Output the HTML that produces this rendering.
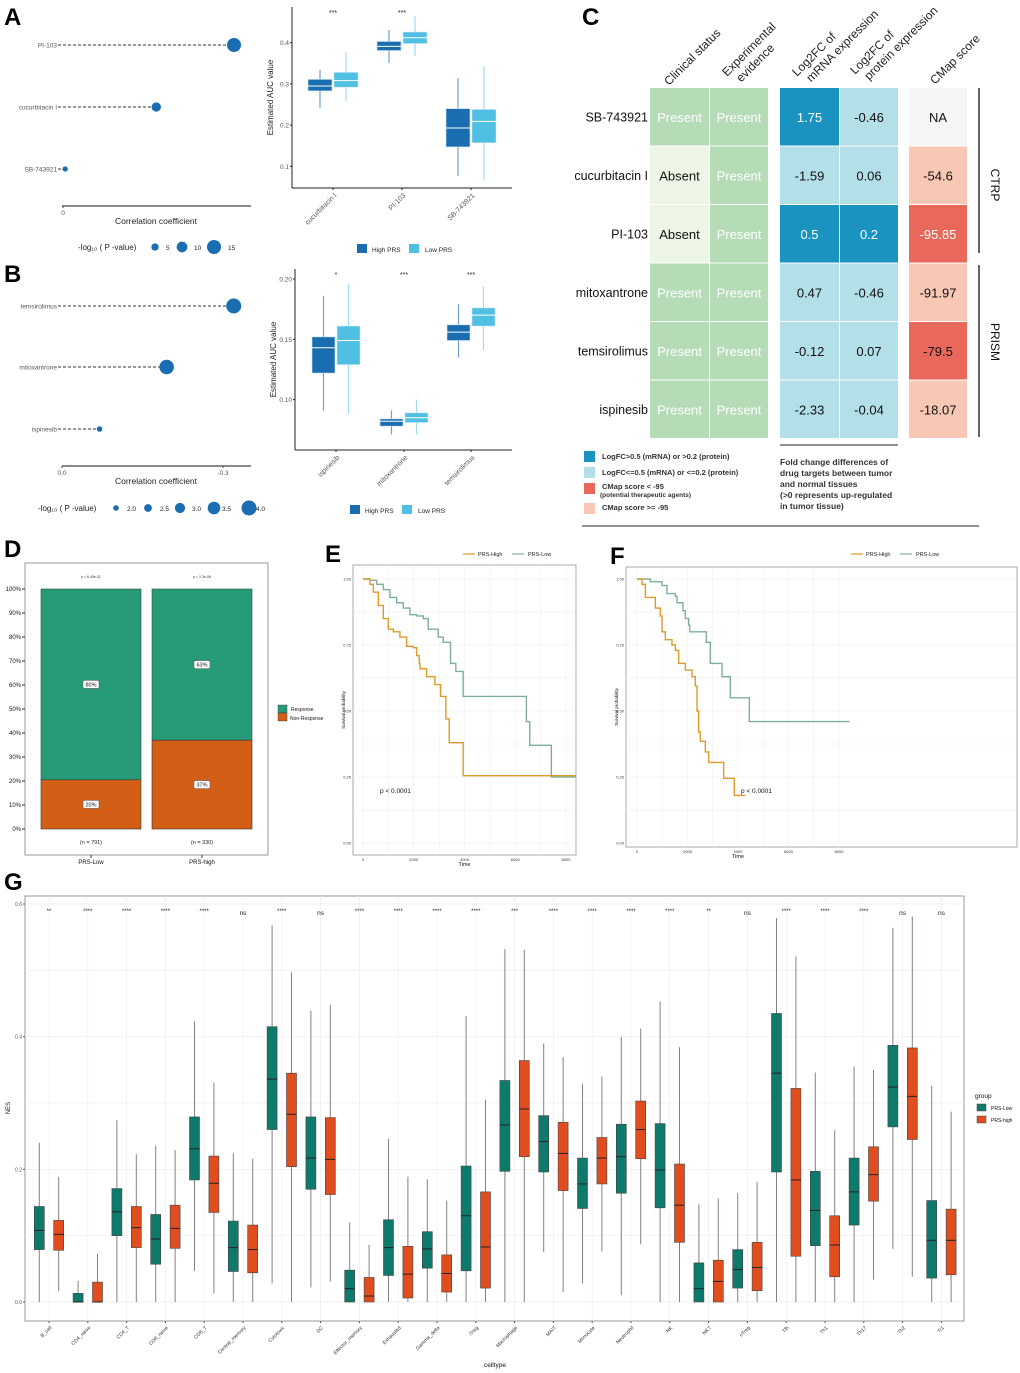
<!DOCTYPE html>
<html><head><meta charset="utf-8">
<style>
html,body{margin:0;padding:0;background:#fff;}
svg{display:block;font-family:"Liberation Sans",sans-serif;}
</style></head>
<body>
<svg id="fig" xmlns="http://www.w3.org/2000/svg" width="1020" height="1373" viewBox="0 0 1020 1373">
<rect x="0" y="0" width="1020" height="1373" fill="#fff"/>
<g font-weight="bold" font-size="24" fill="#000">
<text x="4" y="25">A</text>
<text x="4" y="282">B</text>
<text x="582" y="25">C</text>
<text x="4" y="557">D</text>
<text x="325" y="562">E</text>
<text x="610" y="564">F</text>
<text x="4" y="890">G</text>
</g>
</svg>
<script>
// ---------- DATA ----------
const aDrugs=["PI-103","cucurbitacin I","SB-743921"];
const aCorr=[-0.55,-0.3,-0.007];
const aLogP=[15,8,2];
const bDrugs=["temsirolimus","mitoxantrone","ispinesib"];
const bCorr=[-0.32,-0.195,-0.07];
const bLogP=[4.0,3.9,2.0];
const aCats=["cucurbitacin I","PI-103","SB-743921"];
const aHigh=[[0.242,0.283,0.295,0.311,0.334],[0.351,0.381,0.391,0.403,0.431],[0.077,0.147,0.193,0.240,0.314]];
const aLow=[[0.259,0.292,0.308,0.328,0.377],[0.368,0.398,0.412,0.426,0.465],[0.067,0.157,0.209,0.238,0.343]];
const aSig=["***","***",""];
const aTicks=[0.1,0.2,0.3,0.4];
const bCats=["ispinesib","mitoxantrone","temsirolimus"];
const bHigh=[[0.091,0.122,0.143,0.152,0.186],[0.071,0.078,0.082,0.084,0.091],[0.135,0.149,0.156,0.162,0.179]];
const bLow=[[0.088,0.129,0.149,0.161,0.196],[0.071,0.081,0.085,0.089,0.100],[0.141,0.161,0.170,0.176,0.194]];
const bSig=["*","***","***"];
const bTicks=[0.10,0.15,0.20];
const cDrugs=["SB-743921","cucurbitacin I","PI-103","mitoxantrone","temsirolimus","ispinesib"];
const cClinical=["Present","Absent","Absent","Present","Present","Present"];
const cExperimental=["Present","Present","Present","Present","Present","Present"];
const cMrna=[1.75,-1.59,0.5,0.47,-0.12,-2.33];
const cProtein=[-0.46,0.06,0.2,-0.46,0.07,-0.04];
const cCmap=["NA","-54.6","-95.85","-91.97","-79.5","-18.07"];
const cCmapClass=["na","light","dark","light","dark","light"];
const cMrnaClass=["dark","light","dark","light","light","light"];
const cProteinClass=["light","light","dark","light","light","light"];
const dGroups=["PRS-Low","PRS-high"];
const dNonResp=[20.5,37];
const dRespLabel=["80%","63%"];
const dNonLabel=["20%","37%"];
const dN=["(n = 791)","(n = 330)"];
const dP=["p = 6.45e-02","p = 2.2e-06"];
const dTicks=[0,10,20,30,40,50,60,70,80,90,100];
const eHighT=[0,275,407,603,800,997,1193,1456,1718,1980,2111,2216,2243,2505,2833,3056,3266,3397,3948,8400];
const eHighS=[1,0.98,0.95,0.90,0.85,0.81,0.80,0.78,0.745,0.74,0.71,0.68,0.66,0.63,0.60,0.555,0.47,0.38,0.255,0.255];
const eLowT=[0,275,538,800,1062,1325,1587,1849,2111,2374,2570,2964,3161,3449,3659,3948,6439,6570,7423,8400];
const eLowS=[1,0.995,0.98,0.96,0.93,0.91,0.89,0.865,0.86,0.85,0.81,0.78,0.76,0.68,0.65,0.555,0.46,0.37,0.25,0.25];
const fHighT=[0,198,330,726,924,990,1122,1386,1518,1650,1914,2178,2310,2376,2442,2508,2706,2838,3432,3855,4290];
const fHighS=[1,0.98,0.93,0.89,0.86,0.80,0.77,0.75,0.73,0.68,0.655,0.63,0.595,0.50,0.42,0.385,0.345,0.305,0.245,0.18,0.18];
const fLowT=[0,528,990,1188,1518,1584,1822,1914,2046,2086,2746,2904,3366,3696,4449,8422];
const fLowS=[1,0.99,0.975,0.945,0.935,0.91,0.88,0.85,0.825,0.80,0.76,0.68,0.63,0.55,0.46,0.46];
const survYTicks=["0.00","0.25","0.50","0.75","1.00"];
const survXTicks=[0,2000,4000,6000,8000];
const gCats=["B_cell","CD4_naive","CD4_T","CD8_naive","CD8_T","Central_memory","Cytotoxic","DC","Effector_memory","Exhausted","Gamma_delta","iTreg","Macrophage","MAIT","Monocyte","Neutrophil","NK","NKT","nTreg","Tfh","Th1","Th17","Th2","Tr1"];
const gLow=[[0,0.079,0.108,0.144,0.24],[0,0,0,0.013,0.032],[0,0.10,0.136,0.171,0.274],[0,0.057,0.095,0.132,0.236],[0.047,0.184,0.231,0.279,0.423],[0,0.046,0.082,0.122,0.224],[0.028,0.26,0.336,0.415,0.568],[0.022,0.17,0.217,0.279,0.439],[0,0,0.02,0.048,0.12],[0,0.04,0.082,0.124,0.246],[0,0.051,0.08,0.106,0.185],[0,0.047,0.13,0.205,0.431],[0,0.197,0.267,0.334,0.532],[0.075,0.196,0.242,0.281,0.39],[0.028,0.141,0.178,0.217,0.329],[0.01,0.164,0.219,0.268,0.40],[0,0.142,0.199,0.269,0.453],[0,0,0.02,0.059,0.147],[0,0.021,0.049,0.079,0.164],[0,0.196,0.345,0.435,0.579],[0,0.085,0.138,0.197,0.346],[0,0.116,0.166,0.217,0.355],[0.08,0.264,0.324,0.387,0.564],[0,0.036,0.093,0.153,0.326]];
const gHigh=[[0.016,0.078,0.102,0.123,0.189],[0,0,0,0.03,0.073],[0,0.082,0.112,0.144,0.223],[0,0.081,0.111,0.146,0.229],[0.013,0.135,0.179,0.22,0.331],[0,0.044,0.079,0.116,0.216],[0,0.204,0.283,0.345,0.497],[0.031,0.162,0.215,0.278,0.448],[0,0,0.009,0.037,0.086],[0,0.006,0.042,0.084,0.189],[0,0.015,0.043,0.071,0.153],[0,0.021,0.083,0.166,0.305],[0,0.219,0.291,0.364,0.531],[0.015,0.168,0.224,0.271,0.369],[0.076,0.178,0.217,0.248,0.34],[0.087,0.216,0.26,0.303,0.412],[0,0.09,0.146,0.208,0.384],[0,0,0.031,0.063,0.156],[0,0.017,0.052,0.09,0.181],[0,0.069,0.184,0.322,0.521],[0,0.038,0.086,0.13,0.259],[0.034,0.152,0.192,0.234,0.35],[0.038,0.245,0.31,0.383,0.581],[0,0.041,0.093,0.14,0.287]];
const gSig=["**","****","****","****","****","ns","****","ns","****","****","****","****","***","****","****","****","****","**","ns","****","****","****","ns","ns"];
const gTicks=[0.0,0.2,0.4,0.6];

// ---------- HELPERS ----------
const NS='http://www.w3.org/2000/svg';
const svg=document.getElementById('fig');
function mk(tag,attrs,parent){const e=document.createElementNS(NS,tag);for(const k in attrs)e.setAttribute(k,attrs[k]);(parent||svg).appendChild(e);return e;}
function tx(x,y,s,size,attrs,parent){const a=Object.assign({x:x,y:y,'font-size':size,fill:'#222'},attrs||{});const e=mk('text',a,parent);e.textContent=s;return e;}
function grp(){return mk('g',{});}

// ---------- PANEL A/B LOLLIPOP ----------
function lollipop(drugs,corr,logp,ys,axisY,xScale,rScale,ticks,legendY,legVals,legX,legLabX,legTitleX,legFmt){
  const g=grp();
  
  
  const ax=mk('line',{x1:62,y1:axisY,x2:251,y2:axisY,stroke:'#444','stroke-width':1.2},g);
  
  
  ticks.forEach(t=>{
    mk('line',{x1:xScale(t.v),y1:axisY,x2:xScale(t.v),y2:axisY+2,stroke:'#444'},g);
    const l=tx(xScale(t.v),axisY+9,t.s,6.5,{'text-anchor':'middle',fill:'#555'},g);
    
    
  });
  const xt=tx(156,axisY+18,'Correlation coefficient',8.5,{'text-anchor':'middle',fill:'#222'},g);
  
  
  drugs.forEach((d,i)=>{
    const y=ys[i];
    const lb=tx(57,y+2.5,d,6.5,{'text-anchor':'end',fill:'#555'},g);
    
    
    mk('line',{x1:58,y1:y,x2:xScale(corr[i]),y2:y,stroke:'#333','stroke-width':1,'stroke-dasharray':'3,2'},g);
    const c=mk('circle',{cx:xScale(corr[i]),cy:y,r:rScale(logp[i]),fill:'#1a6db0'},g);
    
    
  });
  const lt=tx(legTitleX,legendY+3,'-log\u2081\u2080 ( P -value)',8,{'text-anchor':'start',fill:'#222'},g);
  
  
  legVals.forEach((v,i)=>{
    const c=mk('circle',{cx:legX[i],cy:legendY,r:rScale(v),fill:'#1a6db0'},g);
    
    
    tx(legLabX[i],legendY+3,legFmt(v),6.5,{fill:'#222'},g);
  });
}
lollipop(aDrugs,aCorr,aLogP,[45,107,169],206,v=>63+v/-0.55*171,p=>2+p/15*5,[{v:0,s:'0'}],247,[5,10,15],[155,182,214],[166,194,228],78,v=>String(v));
lollipop(bDrugs,bCorr,bLogP,[306,367,429],466,v=>62+v/-0.3*161,p=>p<=2.05?2.8:(1.5+(p-1.5)*2.4),[{v:0,s:'0.0'},{v:-0.3,s:'-0.3'}],508,[2.0,2.5,3.0,3.5,4.0],[116,148,180,214,249],[127,160,192,222,256],38,v=>v.toFixed(1));

// ---------- PANEL A/B BOXPLOTS ----------
function drugBox(cats,hi,lo,sig,ticks,yS,left,top,bottom,xs,off,w,legY,legX,tickFmt){
  const g=grp();
  
  
  mk('line',{x1:left,y1:top,x2:left,y2:bottom,stroke:'#222','stroke-width':1},g);
  mk('line',{x1:left,y1:bottom,x2:512,y2:bottom,stroke:'#222','stroke-width':1},g);
  ticks.forEach(t=>{
    mk('line',{x1:left-2,y1:yS(t),x2:left,y2:yS(t),stroke:'#222'},g);
    const l=tx(left-3,yS(t)+2.5,tickFmt(t),6.5,{'text-anchor':'end',fill:'#555'},g);
    
    
  });
  const yt=tx(0,0,'Estimated AUC value',8,{'text-anchor':'middle',fill:'#222',transform:`translate(${left-19},${(top+bottom)/2}) rotate(-90)`},g);
  
  
  cats.forEach((c,i)=>{
    const cx=xs[i];
    mk('line',{x1:cx,y1:bottom,x2:cx,y2:bottom+2,stroke:'#222'},g);
    const l=tx(0,0,c,7,{'text-anchor':'end',fill:'#555',transform:`translate(${cx+4},${bottom+8}) rotate(-45)`},g);
    
    
    [[hi[i],-off,'#1a6db0','#6f9fcf'],[lo[i],off,'#4fbfe3','#9fdcf0']].forEach(([q,o,col,wc])=>{
      const x=cx+o;
      mk('line',{x1:x,y1:yS(q[0]),x2:x,y2:yS(q[4]),stroke:wc,'stroke-width':1.2},g);
      const b=mk('rect',{x:x-w/2,y:yS(q[3]),width:w,height:yS(q[1])-yS(q[3]),fill:col,stroke:'#cfe7f5','stroke-width':0.6},g);
      
      
      mk('line',{x1:x-w/2,y1:yS(q[2]),x2:x+w/2,y2:yS(q[2]),stroke:'#fff','stroke-width':1},g);
    });
    if(sig[i]){const s=tx(cx,top+8,sig[i],7,{'text-anchor':'middle',fill:'#222'},g);
      
      }
  });
  const k1=mk('rect',{x:legX,y:legY-5,width:10,height:9,fill:'#1a6db0'},g);
  
  
  tx(legX+15,legY+3,'High PRS',6.5,{fill:'#222'},g);
  const k2=mk('rect',{x:legX+52,y:legY-5,width:10,height:9,fill:'#4fbfe3'},g);
  
  
  tx(legX+68,legY+3,'Low PRS',6.5,{fill:'#222'},g);
}
drugBox(aCats,aHigh,aLow,aSig,aTicks,v=>42.7+(0.4-v)*412,292,7,188,[333,402,471],13,24,249,357,t=>t.toFixed(1));
drugBox(bCats,bHigh,bLow,bSig,bTicks,v=>279+(0.2-v)*1206,295,269,450,[336,404,471],12.5,23,510,350,t=>t.toFixed(2));

// ---------- PANEL C ----------
(function(){
  const g=grp();
  
  
  const rowY=i=>88+i*58.5, rh=58.5;
  const cols=[[650,59],[710,58],[780,59],[840,58],[909,58]];
  const heads=[[669,86,['Clinical status']],[727,77,['Experimental','evidence']],[797,77,['Log2FC of','mRNA expression']],[855,75,['Log2FC of','protein expression']],[935,85,['CMap score']]];
  heads.forEach(h=>{
    const t=mk('text',{transform:`translate(${h[0]},${h[1]}) rotate(-45)`,'font-size':12,fill:'#222'},g);
    
    
    h[2].forEach((s,j)=>{const ts=mk('tspan',{x:j?6:0,y:j?14:0},t);ts.textContent=s;});
  });
  const colr={present:'#b5dcb6',absent:'#edf5e6',dark:'#1a93c0',light:'#b3dfe8',cdark:'#e8695c',clight:'#f8c8b4',na:'#f5f5f5'};
  cDrugs.forEach((d,i)=>{
    const y=rowY(i);
    const lb=tx(648,y+rh/2+4,d,12.5,{'text-anchor':'end',fill:'#111'},g);
    
    
    const cells=[
      [cClinical[i],cClinical[i]=='Present'?colr.present:colr.absent,cClinical[i]=='Present'?'#fff':'#111'],
      [cExperimental[i],colr.present,'#fff'],
      [String(cMrna[i]),cMrnaClass[i]=='dark'?colr.dark:colr.light,cMrnaClass[i]=='dark'?'#fff':'#111'],
      [String(cProtein[i]),cProteinClass[i]=='dark'?colr.dark:colr.light,cProteinClass[i]=='dark'?'#fff':'#111'],
      [cCmap[i],cCmapClass[i]=='na'?colr.na:(cCmapClass[i]=='dark'?colr.cdark:colr.clight),cCmap[i]=='-95.85'?'#fff':'#111']
    ];
    cells.forEach((c,j)=>{
      const r=mk('rect',{x:cols[j][0],y:y,width:cols[j][1],height:rh-1,fill:c[1]},g);
      
      
      const t=tx(cols[j][0]+cols[j][1]/2,y+rh/2+4.5,c[0],13,{'text-anchor':'middle',fill:c[2]},g);
      
      
    });
  });
  mk('line',{x1:979,y1:88,x2:979,y2:253,stroke:'#111','stroke-width':1.3},g);
  mk('line',{x1:979,y1:265,x2:979,y2:437,stroke:'#111','stroke-width':1.3},g);
  const s1=tx(0,0,'CTRP',12,{'text-anchor':'middle',fill:'#111',transform:'translate(991,185) rotate(90)'},g);
  
  
  const s2=tx(0,0,'PRISM',12,{'text-anchor':'middle',fill:'#111',transform:'translate(991,342) rotate(90)'},g);
  
  
  const leg=[[451,colr.dark,'LogFC>0.5 (mRNA) or >0.2 (protein)',459],[467,colr.light,'LogFC<=0.5 (mRNA) or <=0.2 (protein)',475],[483,colr.cdark,'CMap score < -95',489],[503,colr.clight,'CMap score >= -95',510]];
  leg.forEach(l=>{
    const k=mk('rect',{x:584,y:l[0],width:11,height:11,fill:l[1]},g);
    
    
    tx(602,l[3],l[2],7.5,{fill:'#333','font-weight':'bold'},g);
  });
  tx(600,497,'(potential therapeutic agents)',6.5,{fill:'#333','font-weight':'bold'},g);
  mk('line',{x1:780,y1:445,x2:898,y2:445,stroke:'#222'},g);
  ['Fold change differences of','drug targets between tumor','and normal tissues','(>0 represents up-regulated','in tumor tissue)'].forEach((s,i)=>{
    tx(780,465+i*11,s,8.5,{fill:'#333','font-weight':'bold'},g);
  });
  mk('line',{x1:582,y1:526,x2:979,y2:526,stroke:'#222'},g);
})();

// ---------- PANEL D ----------
(function(){
  const g=grp();
  
  
  const fr=mk('rect',{x:25,y:563,width:243,height:292,fill:'#fff',stroke:'#999'},g);
  
  
  const yS=v=>829-v*2.4;
  dTicks.forEach(t=>{
    mk('line',{x1:22,y1:yS(t),x2:25,y2:yS(t),stroke:'#333'},g);
    const l=tx(21,yS(t)+2,t+'%',6,{'text-anchor':'end',fill:'#111'},g);
    
    
  });
  const xs=[41,152];
  dGroups.forEach((gr,i)=>{
    const x=xs[i],w=100;
    const r1=mk('rect',{x:x,y:yS(100),width:w,height:yS(dNonResp[i])-yS(100),fill:'#279a77',stroke:'#2f4f45','stroke-width':0.6},g);
    
    
    const r2=mk('rect',{x:x,y:yS(dNonResp[i]),width:w,height:yS(0)-yS(dNonResp[i]),fill:'#d35f17',stroke:'#333','stroke-width':0.6},g);
    
    
    const m1=yS((100+dNonResp[i])/2), m2=yS(dNonResp[i]/2);
    [[m1,dRespLabel[i]],[m2,dNonLabel[i]]].forEach(m=>{
      mk('rect',{x:x+w/2-8,y:m[0]-4,width:16,height:8,rx:1.5,fill:'#fff',stroke:'#555','stroke-width':0.5},g);
      tx(x+w/2,m[0]+2,m[1],5.5,{'text-anchor':'middle',fill:'#111'},g);
    });
    tx(x+w/2,578,dP[i],3.5,{'text-anchor':'middle',fill:'#333'},g);
    tx(x+w/2,844,dN[i],5.5,{'text-anchor':'middle',fill:'#222'},g);
    mk('line',{x1:x+w/2,y1:855,x2:x+w/2,y2:858,stroke:'#333'},g);
    const xl=tx(x+w/2,864,gr,6,{'text-anchor':'middle',fill:'#111'},g);
    
    
  });
  const k1=mk('rect',{x:278,y:705,width:9,height:8,fill:'#279a77',stroke:'#333','stroke-width':0.4},g);
  
  
  const k2=mk('rect',{x:278,y:713,width:9,height:8,fill:'#d35f17',stroke:'#333','stroke-width':0.4},g);
  
  
  tx(291,711,'Response',5,{fill:'#111'},g);
  tx(290,720,'Non-Response',5,{fill:'#111'},g);
})();

// ---------- PANELS E/F SURVIVAL ----------
function surv(name,fx0,fx1,fy0,fy1,x0,x8000,hiT,hiS,loT,loS,legX,pX){
  const g=grp();
  
  
  const xS=t=>x0+t/8000*(x8000-x0), yS=s=>843-s*264;
  mk('rect',{x:fx0,y:fy0,width:fx1-fx0,height:fy1-fy0,fill:'#fff',stroke:'#aaa'},g);
  for(let s=0;s<=1.0001;s+=0.125){mk('line',{x1:fx0,y1:yS(s),x2:fx1,y2:yS(s),stroke:'#eee','stroke-width':0.6},g);}
  for(let t=0;t<=8000;t+=1000){if(xS(t)<fx1)mk('line',{x1:xS(t),y1:fy0,x2:xS(t),y2:fy1,stroke:'#eee','stroke-width':0.6},g);}
  survYTicks.forEach((s,i)=>{
    const l=tx(fx0-2,yS(i*0.25)+1.5,s,4,{'text-anchor':'end',fill:'#333'},g);
    
    
  });
  survXTicks.forEach(t=>{
    const l=tx(xS(t),fy1+6,String(t),4,{'text-anchor':'middle',fill:'#333'},g);
    
    
  });
  tx((x0+x8000)/2,fy1+11,'Time',5.5,{'text-anchor':'middle',fill:'#111'},g);
  tx(0,0,'Survival probability',4.5,{'text-anchor':'middle',fill:'#111',transform:`translate(${fx0-8},${(fy0+fy1)/2}) rotate(-90)`},g);
  function stepPath(T,S){let d=`M${xS(T[0])},${yS(S[0])}`;for(let i=1;i<T.length;i++){d+=` H${Math.min(xS(T[i]),fx1)} V${yS(S[i])}`;}return d;}
  const pl=mk('path',{d:stepPath(loT,loS),fill:'none',stroke:'#7fada3','stroke-width':1.4},g);
  
  
  const ph=mk('path',{d:stepPath(hiT,hiS),fill:'none',stroke:'#e09a2a','stroke-width':1.4},g);
  
  
  tx(pX,793,'p < 0.0001',6.5,{fill:'#111'},g);
  mk('line',{x1:legX,y1:554,x2:legX+12,y2:554,stroke:'#e09a2a','stroke-width':1.2},g);
  tx(legX+15,556,'PRS-High',5.5,{fill:'#222'},g);
  mk('line',{x1:legX+49,y1:554,x2:legX+61,y2:554,stroke:'#7fada3','stroke-width':1.2},g);
  tx(legX+65,556,'PRS-Low',5.5,{fill:'#222'},g);
}
surv('survival-plot-e',353,576,565,855,363,566,eHighT,eHighS,eLowT,eLowS,463,380);
surv('survival-plot-f',626,1017,567,847,637,839,fHighT,fHighS,fLowT,fLowS,851,741);

// ---------- PANEL G ----------
(function(){
  const g=grp();
  
  
  const yS=v=>1302-v*663.3, xS=i=>49+i*38.8;
  const left=25,right=964,top=896,bottom=1321;
  mk('rect',{x:left,y:top,width:right-left,height:bottom-top,fill:'#fff',stroke:'#999','stroke-width':1},g);
  for(let v=0;v<=0.6001;v+=0.1){mk('line',{x1:left,y1:yS(v),x2:right,y2:yS(v),stroke:'#eee','stroke-width':0.7},g);}
  gCats.forEach((c,i)=>mk('line',{x1:xS(i),y1:top,x2:xS(i),y2:bottom,stroke:'#eee','stroke-width':0.7},g));
  gTicks.forEach(t=>{
    mk('line',{x1:left-2,y1:yS(t),x2:left,y2:yS(t),stroke:'#555'},g);
    const l=tx(left-3,yS(t)+2,t.toFixed(1),5,{'text-anchor':'end',fill:'#555'},g);
    
    
  });
  const yt=tx(0,0,'NES',6,{'text-anchor':'middle',fill:'#111',transform:'translate(10,1108) rotate(-90)'},g);
  
  
  const xt=tx(495,1367,'celltype',6.5,{'text-anchor':'middle',fill:'#111'},g);
  
  
  gCats.forEach((c,i)=>{
    const cx=xS(i);
    mk('line',{x1:cx,y1:bottom,x2:cx,y2:bottom+2,stroke:'#555'},g);
    const l=tx(0,0,c,5,{'text-anchor':'end',fill:'#333',transform:`translate(${cx+3},${bottom+7}) rotate(-45)`},g);
    
    
    [[gLow[i],-9.7,'#0e7a6b'],[gHigh[i],9.7,'#e04e1f']].forEach(([q,o,col])=>{
      const x=cx+o,w=10;
      mk('line',{x1:x,y1:yS(q[0]),x2:x,y2:yS(q[4]),stroke:'#857f7f','stroke-width':1},g);
      const b=mk('rect',{x:x-w/2,y:yS(q[3]),width:w,height:Math.max(yS(q[1])-yS(q[3]),0.5),fill:col,stroke:'#444','stroke-width':0.6},g);
      
      
      mk('line',{x1:x-w/2,y1:yS(q[2]),x2:x+w/2,y2:yS(q[2]),stroke:'#222','stroke-width':1},g);
    });
    const s=tx(cx,gSig[i]=='ns'?915:913,gSig[i],gSig[i]=='ns'?6.5:6,{'text-anchor':'middle',fill:'#222'},g);
    
    
  });
  tx(975,1098,'group',6.5,{fill:'#111'},g);
  const k1=mk('rect',{x:977,y:1104,width:9,height:7,fill:'#0e7a6b',stroke:'#444','stroke-width':0.5},g);
  
  
  tx(991,1110,'PRS-Low',5,{fill:'#111'},g);
  const k2=mk('rect',{x:977,y:1116,width:9,height:7,fill:'#e04e1f',stroke:'#444','stroke-width':0.5},g);
  
  
  tx(991,1122,'PRS-high',5,{fill:'#111'},g);
})();
</script>
</body></html>
